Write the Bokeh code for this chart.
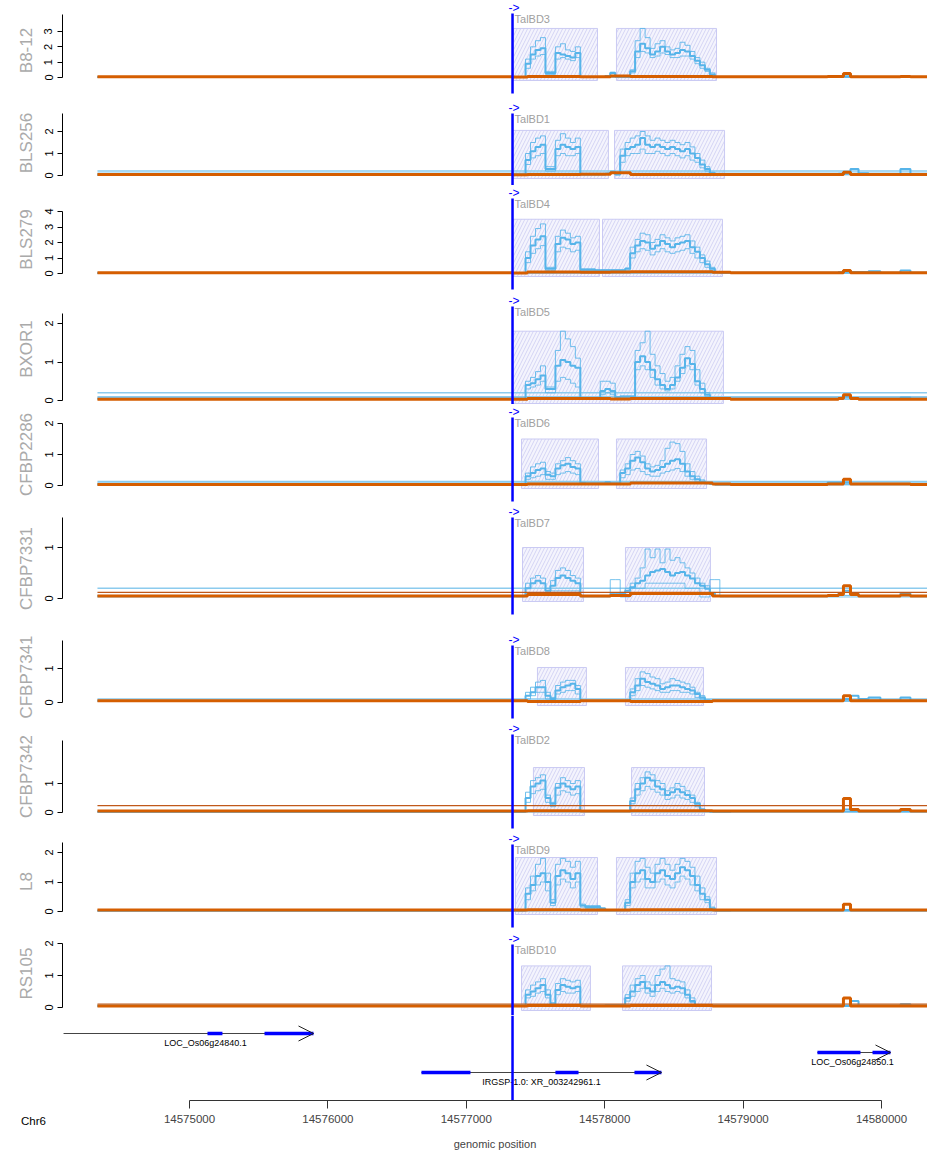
from bokeh.plotting import figure
from bokeh.layouts import column, row
from bokeh.models import (Range1d, FixedTicker, Arrow, OpenHead,
                          BasicTickFormatter)
from bokeh.core.properties import value
from bokeh.embed import file_html
from bokeh.resources import INLINE

# ---------------------------------------------------------------- data
TRACKS = ["B8-12", "BLS256", "BLS279", "BXOR1", "CFBP2286",
          "CFBP7331", "CFBP7341", "CFBP7342", "L8", "RS105"]
TALBD = ["TalBD3", "TalBD1", "TalBD4", "TalBD5", "TalBD6",
         "TalBD7", "TalBD8", "TalBD2", "TalBD9", "TalBD10"]
Y_TICKS = [[0, 1, 2, 3], [0, 1, 2], [0, 1, 2, 3, 4], [0, 1, 2], [0, 1, 2],
           [0, 1], [0, 1], [0, 1], [0, 1, 2], [0, 1, 2]]

TSS = 14577334            # transcription start (blue marker)
TRACK_START = 14574335    # first covered base
AXIS_TICKS = [14575000, 14576000, 14577000, 14578000, 14579000, 14580000]
CHROM = "Chr6"

# binding-element boxes (two per strain, one merged for BXOR1)
BOX_LEFT = [[14577341, 14578085], [14577334, 14578071], [14577334, 14577984],
            [14577334], [14577399, 14578085], [14577406, 14578150],
            [14577514, 14578150], [14577485, 14578194], [14577355, 14578085],
            [14577399, 14578129]]
BOX_RIGHT = [[14577948, 14578808], [14578027, 14578866], [14577962, 14578851],
             [14578858], [14577955, 14578736], [14577847, 14578764],
             [14577868, 14578714], [14577854, 14578721], [14577948, 14578808],
             [14577897, 14578772]]
BOX_TOP = [3.2, 2.05, 3.5, 1.8, 1.5, 1.0, 1.03, 1.55, 1.83, 1.3]

# coverage bins around the promoter region
GRID = [14577320, 14577356, 14577392, 14577428, 14577464, 14577500, 14577536,
        14577572, 14577608, 14577644, 14577680, 14577716, 14577752, 14577788,
        14577824, 14577860, 14577896, 14577932, 14577968, 14578004, 14578040,
        14578076, 14578112, 14578148, 14578184, 14578220, 14578256, 14578292,
        14578328, 14578364, 14578400, 14578436, 14578472, 14578508, 14578544,
        14578580, 14578616, 14578652, 14578688, 14578724, 14578760, 14578796,
        14578832, 14578868]
TAIL_POS = [14578909, 14579610, 14579689, 14579725, 14579776, 14579834,
            14579906, 14579992, 14580137, 14580209, 14580332]

B8_12_MAIN = [0.03, 0.03, 0.03, 0.9, 1.5, 1.8, 1.9, 0.3, 0.3, 1.6, 1.5, 1.4, 1.3, 1.6,
              0.03, 0.03, 0.03, 0.03, 0.03, 0.1, 0.3, 0.05, 0.05, 0.05,
              0.4, 1.7, 2.2, 1.9, 1.5, 1.7, 2.0, 1.7, 1.5, 1.6, 1.8, 1.7, 1.4, 1.1, 0.8, 0.5, 0.2,
              0.03, 0.03, 0.03]
B8_12_HIGH = [0.04, 0.04, 0.04, 1.2, 2.0, 2.4, 2.6, 0.4, 0.4, 2.0, 2.2, 1.8, 1.7, 2.0,
              0.04, 0.04, 0.04, 0.04, 0.04, 0.12, 0.35, 0.06, 0.06, 0.06,
              0.5, 2.4, 3.2, 2.6, 1.9, 2.2, 2.4, 2.0, 1.8, 1.9, 2.3, 2.1, 1.7, 1.3, 1.0, 0.6, 0.3,
              0.04, 0.04, 0.04]
B8_12_LOW = [0.02, 0.02, 0.02, 0.6, 1.2, 1.4, 1.5, 0.2, 0.2, 1.2, 1.3, 1.2, 1.1, 1.3,
             0.02, 0.02, 0.02, 0.02, 0.02, 0.08, 0.25, 0.04, 0.04, 0.04,
             0.3, 1.3, 1.7, 1.6, 1.3, 1.4, 1.6, 1.5, 1.3, 1.3, 1.4, 1.4, 1.2, 0.9, 0.6, 0.4, 0.15,
             0.02, 0.02, 0.02]

BLS256_MAIN = [0.03, 0.03, 0.03, 0.7, 1.1, 1.3, 1.4, 0.3, 0.3, 1.2, 1.4, 1.3, 1.2, 1.3,
               0.05, 0.05, 0.05, 0.05, 0.05, 0.08, 0.15, 0.05,
               0.9, 1.2, 1.3, 1.4, 1.7, 1.4, 1.3, 1.4, 1.3, 1.2, 1.3, 1.2, 1.1, 1.2, 1.0, 0.8, 0.5, 0.3, 0.1,
               0.05, 0.05, 0.05]
BLS256_HIGH = [0.04, 0.04, 0.04, 1.0, 1.5, 1.7, 1.8, 0.4, 0.4, 1.6, 1.9, 1.7, 1.5, 1.7,
               0.06, 0.06, 0.06, 0.06, 0.06, 0.1, 0.2, 0.06,
               1.2, 1.5, 1.7, 1.8, 2.0, 1.8, 1.6, 1.7, 1.6, 1.5, 1.6, 1.5, 1.4, 1.5, 1.3, 1.0, 0.7, 0.4, 0.15,
               0.06, 0.06, 0.06]
BLS256_LOW = [0.02, 0.02, 0.02, 0.5, 0.8, 0.9, 1.0, 0.2, 0.2, 0.9, 1.0, 0.9, 0.9, 1.0,
              0.03, 0.03, 0.03, 0.03, 0.03, 0.05, 0.1, 0.03,
              0.6, 0.9, 1.0, 1.0, 1.2, 1.0, 1.0, 1.1, 1.0, 0.9, 1.0, 0.9, 0.8, 0.9, 0.7, 0.6, 0.35, 0.2, 0.08,
              0.03, 0.03, 0.03]

BLS279_MAIN = [0.03, 0.03, 0.03, 1.0, 1.8, 2.2, 2.4, 0.3, 0.3, 1.9, 2.3, 2.2, 1.9, 2.0,
               0.25, 0.25, 0.25, 0.2, 0.2, 0.2, 0.2, 0.2, 0.2, 0.3,
               1.3, 1.8, 2.1, 2.0, 1.6, 1.8, 2.1, 1.9, 1.7, 1.9, 2.0, 2.1, 1.7, 1.4, 1.0, 0.6, 0.3,
               0.1, 0.05, 0.05]
BLS279_HIGH = [0.04, 0.04, 0.04, 1.4, 2.4, 2.9, 3.2, 0.4, 0.4, 2.4, 2.8, 2.6, 2.3, 2.4,
               0.3, 0.3, 0.3, 0.25, 0.25, 0.25, 0.25, 0.25, 0.25, 0.35,
               1.7, 2.2, 2.6, 2.5, 2.0, 2.2, 2.5, 2.3, 2.1, 2.3, 2.4, 2.5, 2.1, 1.7, 1.2, 0.8, 0.4,
               0.12, 0.06, 0.06]
BLS279_LOW = [0.02, 0.02, 0.02, 0.7, 1.3, 1.6, 1.8, 0.2, 0.2, 1.4, 1.7, 1.6, 1.4, 1.5,
              0.2, 0.2, 0.2, 0.15, 0.15, 0.15, 0.15, 0.15, 0.15, 0.2,
              1.0, 1.4, 1.6, 1.5, 1.2, 1.4, 1.6, 1.4, 1.3, 1.4, 1.5, 1.6, 1.3, 1.0, 0.7, 0.4, 0.2,
              0.08, 0.04, 0.04]

BXOR1_MAIN = [0.05, 0.05, 0.05, 0.4, 0.45, 0.55, 0.65, 0.3, 0.3, 0.9, 1.05, 1.0, 0.9, 0.85,
              0.05, 0.05, 0.05, 0.05, 0.25, 0.3, 0.25, 0.08, 0.1, 0.1, 0.1,
              1.0, 1.15, 1.0, 0.8, 0.55, 0.4, 0.3, 0.4, 0.6, 0.85, 1.1, 0.95, 0.5, 0.3, 0.15,
              0.05, 0.05, 0.05, 0.05]
BXOR1_HIGH = [0.06, 0.06, 0.06, 0.5, 0.6, 0.75, 0.9, 0.35, 0.35, 1.3, 1.8, 1.6, 1.4, 1.1,
              0.06, 0.06, 0.06, 0.06, 0.5, 0.5, 0.45, 0.1, 0.12, 0.12, 0.12,
              1.3, 1.5, 1.8, 1.2, 0.9, 0.7, 0.5, 0.6, 0.9, 1.2, 1.4, 1.3, 0.8, 0.45, 0.2,
              0.06, 0.06, 0.06, 0.06]
BXOR1_LOW = [0.03, 0.03, 0.03, 0.3, 0.35, 0.4, 0.5, 0.2, 0.2, 0.5, 0.6, 0.55, 0.45, 0.35,
             0.03, 0.03, 0.03, 0.03, 0.15, 0.2, 0.15, 0.05, 0.06, 0.06, 0.06,
             0.8, 0.9, 0.8, 0.6, 0.4, 0.3, 0.25, 0.3, 0.5, 0.7, 0.9, 0.8, 0.4, 0.2, 0.1,
             0.03, 0.03, 0.03, 0.03]

CFBP2286_MAIN = [0.03, 0.03, 0.03, 0.3, 0.4, 0.5, 0.55, 0.35, 0.3, 0.55, 0.65, 0.7, 0.6, 0.55,
                 0.08, 0.06, 0.06, 0.06, 0.06, 0.1, 0.06, 0.06,
                 0.4, 0.55, 0.8, 0.9, 0.75, 0.55, 0.45, 0.5, 0.6, 0.7, 0.8, 0.85, 0.7, 0.45, 0.3, 0.2, 0.12, 0.08, 0.05,
                 0.03, 0.03, 0.03]
CFBP2286_HIGH = [0.04, 0.04, 0.04, 0.4, 0.6, 0.7, 0.75, 0.45, 0.4, 0.7, 0.8, 0.9, 0.8, 0.7,
                 0.1, 0.08, 0.08, 0.08, 0.08, 0.12, 0.08, 0.08,
                 0.5, 0.7, 1.0, 1.1, 0.95, 0.7, 0.6, 0.65, 0.8, 1.2, 1.4, 1.35, 1.1, 0.7, 0.45, 0.3, 0.18, 0.1, 0.06,
                 0.04, 0.04, 0.04]
CFBP2286_LOW = [0.02, 0.02, 0.02, 0.2, 0.25, 0.3, 0.35, 0.2, 0.2, 0.35, 0.4, 0.45, 0.4, 0.35,
                0.05, 0.04, 0.04, 0.04, 0.04, 0.06, 0.04, 0.04,
                0.25, 0.35, 0.5, 0.55, 0.45, 0.35, 0.3, 0.3, 0.4, 0.45, 0.5, 0.55, 0.45, 0.3, 0.2, 0.12, 0.08, 0.05, 0.03,
                0.02, 0.02, 0.02]

CFBP7331_MAIN = [0.05, 0.05, 0.05, 0.2, 0.3, 0.35, 0.3, 0.15, 0.25, 0.4, 0.45, 0.4, 0.35, 0.3,
                 0.05, 0.05, 0.05, 0.05, 0.05, 0.05, 0.08, 0.08,
                 0.1, 0.15, 0.22, 0.3, 0.35, 0.45, 0.52, 0.55, 0.58, 0.52, 0.45, 0.5, 0.52, 0.45, 0.39, 0.3, 0.25, 0.19, 0.1, 0.05,
                 0.05, 0.05]
CFBP7331_HIGH = [0.06, 0.06, 0.06, 0.3, 0.4, 0.45, 0.4, 0.2, 0.35, 0.55, 0.6, 0.55, 0.45, 0.4,
                 0.06, 0.06, 0.06, 0.06, 0.06, 0.06, 0.1, 0.1,
                 0.12, 0.2, 0.3, 0.4, 0.6, 0.97, 0.8, 0.97, 0.7, 0.97, 0.75, 0.8, 0.7, 0.6, 0.5, 0.4, 0.3, 0.25, 0.12, 0.06,
                 0.06, 0.06]
CFBP7331_LOW = [0.03, 0.03, 0.03, 0.1, 0.1, 0.1, 0.1, 0.1, 0.15, 0.15, 0.15, 0.15, 0.15, 0.15,
                0.03, 0.03, 0.03, 0.03, 0.03, 0.03, 0.37, 0.37,
                0.03, 0.03, 0.2, 0.2, 0.2, 0.3, 0.3, 0.3, 0.3, 0.3, 0.3, 0.3, 0.3, 0.2, 0.2, 0.2, 0.03, 0.03, 0.37, 0.37,
                0.03, 0.03]

CFBP7341_MAIN = [0.05, 0.05, 0.05, 0.2, 0.3, 0.45, 0.45, 0.2, 0.1, 0.35, 0.45, 0.5, 0.55, 0.4,
                 0.05, 0.05, 0.05, 0.05, 0.05, 0.05, 0.05, 0.05, 0.05, 0.05,
                 0.3, 0.5, 0.7, 0.6, 0.55, 0.5, 0.4, 0.45, 0.5, 0.5, 0.45, 0.4, 0.35, 0.25, 0.15, 0.05,
                 0.05, 0.05, 0.05, 0.05]
CFBP7341_HIGH = [0.06, 0.06, 0.06, 0.3, 0.45, 0.6, 0.65, 0.3, 0.15, 0.5, 0.6, 0.65, 0.65, 0.5,
                 0.06, 0.06, 0.06, 0.06, 0.06, 0.06, 0.06, 0.06, 0.06, 0.06,
                 0.4, 0.7, 0.9, 0.85, 0.75, 0.7, 0.55, 0.6, 0.7, 0.65, 0.6, 0.55, 0.45, 0.3, 0.2, 0.08,
                 0.06, 0.06, 0.06, 0.06]
CFBP7341_LOW = [0.03, 0.03, 0.03, 0.1, 0.2, 0.3, 0.3, 0.1, 0.05, 0.25, 0.3, 0.35, 0.35, 0.25,
                0.03, 0.03, 0.03, 0.03, 0.03, 0.03, 0.03, 0.03, 0.03, 0.03,
                0.2, 0.35, 0.5, 0.45, 0.4, 0.35, 0.3, 0.3, 0.35, 0.35, 0.3, 0.3, 0.25, 0.15, 0.1, 0.03,
                0.03, 0.03, 0.03, 0.03]

CFBP7342_MAIN = [0.03, 0.03, 0.03, 0.5, 0.9, 1.0, 1.1, 0.5, 0.3, 0.85, 1.0, 0.9, 0.8, 0.9,
                 0.05, 0.05, 0.05, 0.05, 0.05, 0.05, 0.05, 0.05, 0.05, 0.05,
                 0.4, 0.8, 1.0, 1.2, 1.1, 0.9, 0.8, 0.6, 0.7, 0.8, 0.7, 0.6, 0.5, 0.3, 0.1, 0.05,
                 0.03, 0.03, 0.03, 0.03]
CFBP7342_HIGH = [0.04, 0.04, 0.04, 0.7, 1.1, 1.2, 1.3, 0.6, 0.35, 1.0, 1.2, 1.1, 1.0, 1.1,
                 0.06, 0.06, 0.06, 0.06, 0.06, 0.06, 0.06, 0.06, 0.06, 0.06,
                 0.5, 1.0, 1.2, 1.4, 1.3, 1.1, 1.0, 0.75, 0.85, 1.0, 0.9, 0.75, 0.6, 0.35, 0.12, 0.06,
                 0.04, 0.04, 0.04, 0.04]
CFBP7342_LOW = [0.02, 0.02, 0.02, 0.35, 0.65, 0.75, 0.8, 0.35, 0.2, 0.6, 0.75, 0.7, 0.6, 0.65,
                0.03, 0.03, 0.03, 0.03, 0.03, 0.03, 0.03, 0.03, 0.03, 0.03,
                0.3, 0.6, 0.75, 0.9, 0.8, 0.7, 0.6, 0.45, 0.5, 0.6, 0.5, 0.45, 0.35, 0.2, 0.07, 0.03,
                0.02, 0.02, 0.02, 0.02]

L8_MAIN = [0.03, 0.03, 0.03, 0.6, 0.9, 1.2, 1.3, 1.0, 0.3, 1.2, 1.4, 1.3, 1.1, 1.3,
           0.2, 0.15, 0.15, 0.15, 0.1, 0.05, 0.05, 0.05, 0.05,
           0.3, 1.0, 1.3, 1.4, 1.1, 1.0, 1.3, 1.4, 1.2, 1.1, 1.3, 1.5, 1.4, 1.2, 0.9, 0.6, 0.4, 0.1,
           0.03, 0.03, 0.03]
L8_HIGH = [0.04, 0.04, 0.04, 0.8, 1.2, 1.6, 1.8, 1.3, 0.4, 1.6, 1.8, 1.7, 1.5, 1.7,
           0.25, 0.2, 0.2, 0.2, 0.12, 0.06, 0.06, 0.06, 0.06,
           0.4, 1.3, 1.7, 1.8, 1.5, 1.3, 1.6, 1.8, 1.6, 1.4, 1.6, 1.8, 1.7, 1.5, 1.2, 0.8, 0.5, 0.15,
           0.04, 0.04, 0.04]
L8_LOW = [0.02, 0.02, 0.02, 0.4, 0.7, 0.9, 1.0, 0.7, 0.2, 0.9, 1.1, 1.0, 0.8, 1.0,
          0.15, 0.1, 0.1, 0.1, 0.07, 0.03, 0.03, 0.03, 0.03,
          0.2, 0.8, 1.0, 1.1, 0.8, 0.8, 1.0, 1.1, 0.9, 0.8, 1.0, 1.2, 1.1, 0.9, 0.7, 0.4, 0.3, 0.07,
          0.02, 0.02, 0.02]

RS105_MAIN = [0.05, 0.05, 0.05, 0.4, 0.5, 0.6, 0.7, 0.4, 0.1, 0.55, 0.7, 0.65, 0.6, 0.65,
              0.05, 0.05, 0.05, 0.05, 0.05, 0.07, 0.07, 0.07, 0.07,
              0.3, 0.5, 0.7, 0.8, 0.6, 0.5, 0.7, 0.8, 0.7, 0.6, 0.65, 0.6, 0.4, 0.2, 0.05,
              0.05, 0.05, 0.05, 0.05, 0.05, 0.05]
RS105_HIGH = [0.06, 0.06, 0.06, 0.55, 0.7, 0.8, 0.9, 0.55, 0.15, 0.75, 0.9, 0.85, 0.8, 0.85,
              0.06, 0.06, 0.06, 0.06, 0.06, 0.09, 0.09, 0.09, 0.09,
              0.4, 0.7, 0.9, 1.0, 0.8, 0.7, 1.0, 1.2, 1.3, 0.9, 0.85, 0.8, 0.55, 0.3, 0.08,
              0.06, 0.06, 0.06, 0.06, 0.06, 0.06]
RS105_LOW = [0.03, 0.03, 0.03, 0.3, 0.35, 0.45, 0.5, 0.3, 0.07, 0.4, 0.5, 0.45, 0.45, 0.5,
             0.03, 0.03, 0.03, 0.03, 0.03, 0.05, 0.05, 0.05, 0.05,
             0.2, 0.35, 0.5, 0.6, 0.45, 0.35, 0.5, 0.6, 0.5, 0.45, 0.5, 0.45, 0.3, 0.15, 0.03,
             0.03, 0.03, 0.03, 0.03, 0.03, 0.03]

COVER_MAIN = [B8_12_MAIN, BLS256_MAIN, BLS279_MAIN, BXOR1_MAIN, CFBP2286_MAIN,
              CFBP7331_MAIN, CFBP7341_MAIN, CFBP7342_MAIN, L8_MAIN, RS105_MAIN]
COVER_HIGH = [B8_12_HIGH, BLS256_HIGH, BLS279_HIGH, BXOR1_HIGH, CFBP2286_HIGH,
              CFBP7331_HIGH, CFBP7341_HIGH, CFBP7342_HIGH, L8_HIGH, RS105_HIGH]
COVER_LOW = [B8_12_LOW, BLS256_LOW, BLS279_LOW, BXOR1_LOW, CFBP2286_LOW,
             CFBP7331_LOW, CFBP7341_LOW, CFBP7342_LOW, L8_LOW, RS105_LOW]

# downstream coverage (same bins for every strain)
TAIL_MAIN = [
    [0.03, 0.03, 0.05, 0.08, 0.05, 0.03, 0.03, 0.03, 0.05, 0.03, 0.03],
    [0.03, 0.05, 0.08, 0.1, 0.3, 0.1, 0.05, 0.05, 0.3, 0.05, 0.05],
    [0.05, 0.05, 0.1, 0.2, 0.1, 0.1, 0.15, 0.05, 0.2, 0.05, 0.05],
    [0.05, 0.05, 0.05, 0.1, 0.05, 0.05, 0.05, 0.05, 0.08, 0.05, 0.05],
    [0.03, 0.1, 0.1, 0.1, 0.05, 0.05, 0.05, 0.05, 0.05, 0.03, 0.03],
    [0.05, 0.05, 0.1, 0.15, 0.1, 0.05, 0.05, 0.05, 0.1, 0.05, 0.05],
    [0.05, 0.05, 0.05, 0.1, 0.2, 0.1, 0.15, 0.05, 0.15, 0.05, 0.05],
    [0.05, 0.05, 0.05, 0.1, 0.05, 0.05, 0.05, 0.05, 0.05, 0.05, 0.05],
    [0.05, 0.05, 0.05, 0.05, 0.05, 0.05, 0.05, 0.05, 0.05, 0.05, 0.05],
    [0.05, 0.05, 0.05, 0.05, 0.2, 0.05, 0.05, 0.05, 0.1, 0.05, 0.05],
]

# flat background levels of the extra replicates
BLUE_LEVELS = [[0.01], [0.1, 0.2], [0.02], [0.1, 0.2], [0.08, 0.13], [0.2],
               [0.1], [0.02], [0.02], [0.08]]
ORANGE_LEVELS = [[], [], [], [], [], [0.12], [], [0.24], [], [0.11]]

# mock (control) coverage
ORANGE_POS = [14574335, 14577334, 14577442, 14577825, 14578042, 14578186,
              14578779, 14578909, 14579610, 14579689, 14579725, 14579776,
              14579834, 14580137, 14580209, 14580332]
ORANGE = [
    [0.05, 0.03, 0.06, 0.05, 0.1, 0.06, 0.05, 0.05, 0.06, 0.06, 0.26, 0.05, 0.05, 0.06, 0.05, 0.05],
    [0.05, 0.03, 0.05, 0.06, 0.12, 0.05, 0.05, 0.05, 0.05, 0.05, 0.15, 0.05, 0.05, 0.05, 0.05, 0.05],
    [0.05, 0.03, 0.1, 0.08, 0.1, 0.12, 0.08, 0.05, 0.05, 0.05, 0.2, 0.05, 0.05, 0.05, 0.05, 0.05],
    [0.03, 0.03, 0.05, 0.05, 0.04, 0.05, 0.05, 0.03, 0.03, 0.05, 0.15, 0.05, 0.03, 0.03, 0.03, 0.03],
    [0.03, 0.03, 0.05, 0.05, 0.05, 0.08, 0.05, 0.03, 0.05, 0.05, 0.2, 0.05, 0.05, 0.05, 0.03, 0.03],
    [0.05, 0.05, 0.08, 0.05, 0.06, 0.1, 0.05, 0.05, 0.06, 0.08, 0.25, 0.08, 0.05, 0.07, 0.05, 0.05],
    [0.05, 0.05, 0.03, 0.05, 0.05, 0.03, 0.05, 0.05, 0.05, 0.05, 0.2, 0.05, 0.05, 0.05, 0.05, 0.05],
    [0.05, 0.05, 0.06, 0.05, 0.05, 0.06, 0.05, 0.05, 0.05, 0.05, 0.48, 0.1, 0.05, 0.1, 0.05, 0.05],
    [0.05, 0.05, 0.06, 0.05, 0.05, 0.06, 0.05, 0.05, 0.05, 0.05, 0.25, 0.05, 0.05, 0.05, 0.05, 0.05],
    [0.05, 0.05, 0.06, 0.05, 0.05, 0.06, 0.05, 0.05, 0.05, 0.05, 0.3, 0.05, 0.05, 0.05, 0.05, 0.05],
]

# gene models
GENE_NAMES = ["LOC_Os06g24840.1", "IRGSP-1.0: XR_003242961.1", "LOC_Os06g24850.1"]
GENE_START = [14574090, 14576676, 14579537]
GENE_END = [14575896, 14578410, 14580065]
GENE_LABEL_X = [14575116, 14577543, 14579790]
EXON_GENE = [0, 0, 1, 1, 1, 2, 2]
EXON_START = [14575130, 14575542, 14576676, 14577644, 14578215, 14579537, 14579935]
EXON_END = [14575238, 14575896, 14577030, 14577811, 14578410, 14579848, 14580065]

# ---------------------------------------------------------------- layout
PAGE_W = 927
LEFT = 62                     # width of the y-axis gutter
PX_PER_BP = 692 / 5000        # horizontal scale
X0_PX = 189                   # page x of 14,575,000
VIEW_START = 14575000 - (X0_PX - LEFT) / PX_PER_BP
VIEW_END = 14575000 + (PAGE_W - X0_PX) / PX_PER_BP

# (top, bottom, baseline, px per unit, axis top) in page pixels
PANELS = [(0, 100, 77, 15.33, 14), (100, 185, 175, 22.0, 113),
          (185, 293, 273, 15.5, 211), (293, 404, 400, 38.5, 313),
          (404, 504, 485, 31.0, 423), (504, 632, 598, 51.0, 517),
          (632, 721, 702, 34.0, 640), (721, 831, 812, 29.0, 740),
          (831, 931, 911, 29.5, 842), (931, 1015, 1007, 32.0, 943)]
BOTTOM_H = 138                # annotation track + genome axis
GENE_H = 85                   # annotation frame height
GENE_ROWS = [18, 57, 37]      # gene rows inside the annotation frame

FONT = "Liberation Sans"
BLUE = "#56B4E9"
ORANGE_C = "#D55E00"
MARK = "#0000FF"


def no_align(fig):
    if "frame_align" in fig.properties():
        fig.frame_align = False


def panel(i):
    top, bottom, zero, ppu, axis_top = PANELS[i]
    p = figure(frame_width=PAGE_W - LEFT, frame_height=bottom - top,
               x_range=Range1d(VIEW_START, VIEW_END),
               y_range=Range1d((zero - bottom) / ppu, (zero - top) / ppu),
               x_axis_location=None, toolbar_location=None,
               output_backend="svg", min_border_left=LEFT, min_border_right=0,
               min_border_top=0, min_border_bottom=0, outline_line_color=None,
               background_fill_color="white", border_fill_color="white")
    p.grid.visible = False

    ax = p.yaxis[0]
    ax.ticker = FixedTicker(ticks=Y_TICKS[i])
    ax.bounds = (0, (zero - axis_top) / ppu)
    ax.major_tick_out = 5
    ax.major_tick_in = 0
    ax.minor_tick_line_color = None
    ax.major_label_orientation = "vertical"
    ax.major_label_standoff = 5
    ax.major_label_text_font = FONT
    ax.major_label_text_font_size = "11px"
    ax.major_label_text_color = "#000000"
    ax.axis_line_color = "#000000"
    ax.major_tick_line_color = "#000000"
    ax.axis_label = TRACKS[i]
    ax.axis_label_standoff = 6
    ax.axis_label_text_font = FONT
    ax.axis_label_text_font_size = "17px"
    ax.axis_label_text_font_style = "normal"
    ax.axis_label_text_color = "#aaaaaa"

    # binding-element boxes
    p.quad(left=BOX_LEFT[i], right=BOX_RIGHT[i],
           bottom=[-3 / ppu] * len(BOX_LEFT[i]), top=[BOX_TOP[i]] * len(BOX_LEFT[i]),
           fill_color="#f4f4fd", line_color="#cacaf3", line_width=1,
           hatch_pattern="/", hatch_color="#d4d4f4", hatch_scale=7, hatch_weight=1)

    for lvl in BLUE_LEVELS[i]:
        p.line([TRACK_START, VIEW_END], [lvl, lvl], line_color="#8ccbee", line_width=1.5)

    flat = [TRACK_START] + GRID + TAIL_POS
    for series, lw, alpha in ((COVER_LOW, 1.0, 0.8), (COVER_HIGH, 1.0, 0.85)):
        ys = [series[i][0]] + series[i] + [series[i][-1]] * len(TAIL_POS)
        p.step(flat, ys, mode="after", line_color=BLUE, line_width=lw, line_alpha=alpha)
    ys = [COVER_MAIN[i][0]] + COVER_MAIN[i] + TAIL_MAIN[i]
    p.step(flat, ys, mode="after", line_color=BLUE, line_width=2.0)

    for lvl in ORANGE_LEVELS[i]:
        p.line([TRACK_START, VIEW_END], [lvl, lvl], line_color="#c0581a", line_width=1.2)
    p.step(ORANGE_POS, ORANGE[i], mode="after", line_color=ORANGE_C, line_width=3)

    # transcription start marker
    p.segment(x0=[TSS], y0=[-16 / ppu], x1=[TSS], y1=[(zero - top - 13) / ppu],
              line_color=MARK, line_width=2.5)
    p.text(x=[TSS], y=[(zero - top - 7) / ppu], text=["->"], x_offset=-4,
           text_color=MARK, text_font=value(FONT), text_font_size="12px",
           text_align="left", text_baseline="middle")
    p.text(x=[TSS], y=[(zero - top - 18) / ppu], text=[TALBD[i]], x_offset=2,
           text_color="#a0a0a0", text_font=value(FONT), text_font_size="11px",
           text_align="left", text_baseline="middle")
    return p


def chrom_gutter():
    # narrow strip left of the annotation track carrying the chromosome name
    c = figure(frame_width=LEFT, frame_height=BOTTOM_H,
               x_range=Range1d(0, LEFT), y_range=Range1d(BOTTOM_H, 0),
               x_axis_location=None, y_axis_location=None,
               toolbar_location=None, output_backend="svg",
               min_border_left=0, min_border_right=0, min_border_top=0,
               min_border_bottom=0, outline_line_color=None,
               background_fill_color="white", border_fill_color="white")
    c.grid.visible = False
    no_align(c)
    c.text(x=[33], y=[105], text=[CHROM], text_font=value(FONT),
           text_font_size="11.5px", text_color="#000000",
           text_align="center", text_baseline="middle")
    return c


def gene_panel():
    g = figure(frame_width=PAGE_W - LEFT, frame_height=GENE_H,
               x_range=Range1d(VIEW_START, VIEW_END), y_range=Range1d(GENE_H, 0),
               y_axis_location=None, toolbar_location=None, output_backend="svg",
               min_border_left=0, min_border_right=0, min_border_top=0,
               min_border_bottom=0, outline_line_color=None,
               background_fill_color="white", border_fill_color="white")
    g.grid.visible = False
    no_align(g)

    rows = [GENE_ROWS[k] for k in range(len(GENE_NAMES))]
    # intron backbone, then exons on top
    g.segment(x0=GENE_START, x1=GENE_END, y0=rows, y1=rows,
              line_color="#444444", line_width=1)
    g.segment(x0=EXON_START, x1=EXON_END,
              y0=[GENE_ROWS[k] for k in EXON_GENE], y1=[GENE_ROWS[k] for k in EXON_GENE],
              line_color=MARK, line_width=3.5, line_cap="butt")
    for k in range(len(GENE_NAMES)):
        y = GENE_ROWS[k]
        # strand arrowhead only (body is the backbone drawn above)
        g.add_layout(Arrow(x_start=GENE_END[k] - 20, y_start=y, x_end=GENE_END[k], y_end=y,
                           line_alpha=0,
                           end=OpenHead(size=15, line_color="#222222", line_width=1)))
        g.text(x=[GENE_LABEL_X[k]], y=[y + 9], text=[GENE_NAMES[k]],
               text_font=value(FONT), text_font_size="9px", text_color="#000000",
               text_align="center", text_baseline="middle")

    g.segment(x0=[TSS], y0=[0], x1=[TSS], y1=[GENE_H], line_color=MARK, line_width=2.5)

    ax = g.xaxis[0]
    ax.ticker = FixedTicker(ticks=AXIS_TICKS)
    ax.bounds = (AXIS_TICKS[0], AXIS_TICKS[-1])
    ax.formatter = BasicTickFormatter(use_scientific=False)
    ax.major_tick_out = 8
    ax.major_tick_in = 0
    ax.minor_tick_line_color = None
    ax.axis_line_color = "#333333"
    ax.major_tick_line_color = "#333333"
    ax.major_label_standoff = 6
    ax.major_label_text_font = FONT
    ax.major_label_text_font_size = "11.5px"
    ax.axis_label = "genomic position"
    ax.axis_label_standoff = 12
    ax.axis_label_text_font = FONT
    ax.axis_label_text_font_size = "11px"
    ax.axis_label_text_font_style = "normal"
    return g


bottom_row = row(chrom_gutter(), gene_panel(), spacing=0)
layout = column(*[panel(i) for i in range(len(TRACKS))], bottom_row, spacing=0)
open("out.html", "w").write(file_html(layout, INLINE))
